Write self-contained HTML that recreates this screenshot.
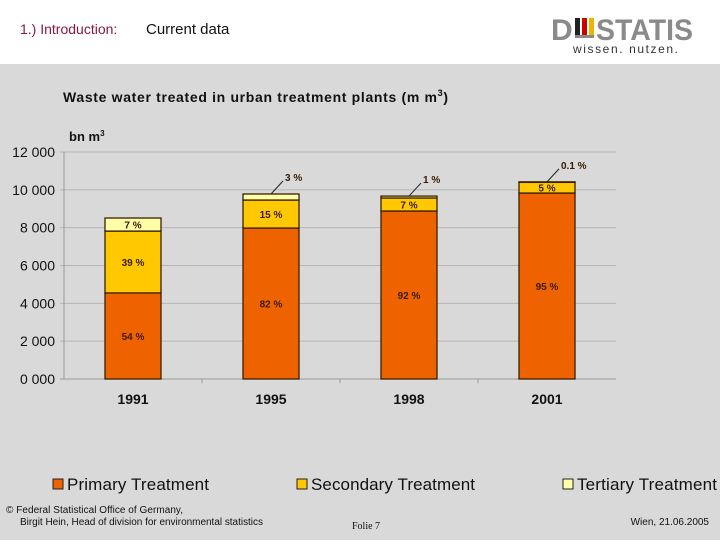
<!DOCTYPE html>
<html><head><meta charset="utf-8"><style>
body{margin:0;width:720px;height:540px;overflow:hidden;background:#fff;font-family:"Liberation Sans",sans-serif}
#wrap{position:relative;width:720px;height:540px}
</style></head><body>
<div id="wrap">
<svg id="chart" width="720" height="540" xmlns="http://www.w3.org/2000/svg">
<rect x="0" y="64" width="720" height="476" fill="#d9d9d9"/>
<text x="20" y="34" font-size="14" fill="#8b1a3a">1.)  Introduction:</text>
<text x="146" y="34" font-size="15" fill="#111">Current data</text>
<g>
<text x="551" y="40" font-size="30" font-weight="bold" fill="#8a8a8a">D</text>
<rect x="575" y="18" width="5" height="20" fill="#222"/>
<rect x="582" y="18" width="5" height="20" fill="#c00"/>
<rect x="589" y="18" width="5" height="20" fill="#e8b800"/>
<rect x="575" y="35" width="19" height="3" fill="#8a8a8a"/>
<text x="596" y="40" font-size="30" font-weight="bold" fill="#8a8a8a" textLength="97" lengthAdjust="spacingAndGlyphs">STATIS</text>
<text x="573" y="53" font-size="12" fill="#333" textLength="105" lengthAdjust="spacing">wissen. nutzen.</text>
</g>
<text x="63" y="102" font-size="14" font-weight="bold" fill="#111" textLength="385">Waste water treated in urban treatment plants (m  m<tspan font-size="9" dy="-6">3</tspan><tspan dy="6">)</tspan></text>
<text x="69" y="141" font-size="13" font-weight="bold" fill="#111">bn m<tspan font-size="8" dy="-5">3</tspan></text>
<g id="grid"></g><g id="bars"></g><g id="labels"></g>
<g>
<g><rect x="53" y="479" width="10" height="10" fill="#ee6300" stroke="#222"/><text x="67" y="490" font-size="17" fill="#111" textLength="142">Primary Treatment</text></g>
<g><rect x="297" y="479" width="10" height="10" fill="#ffc800" stroke="#222"/><text x="311" y="490" font-size="17" fill="#111" textLength="164">Secondary Treatment</text></g>
<g><rect x="563" y="479" width="10" height="10" fill="#ffffa8" stroke="#222"/><text x="577" y="490" font-size="17" fill="#111" textLength="140">Tertiary Treatment</text></g>
</g>
<text x="6" y="513" font-size="10" fill="#111" textLength="177">© Federal Statistical Office of Germany,</text>
<text x="20" y="525" font-size="10" fill="#111" textLength="243">Birgit Hein, Head of division for environmental statistics</text>
<text x="352" y="529" font-size="10" font-family="Liberation Serif,serif" fill="#111">Folie 7</text>
<text x="709" y="525" font-size="10" fill="#111" text-anchor="end">Wien, 21.06.2005</text>
</svg>
</div>
<script>
const categories=["1991","1995","1998","2001"];
const primary=[4550,7980,8880,9830];
const secondary=[3270,1480,690,580];
const tertiary=[690,320,100,10];
const primaryPct=["54  %","82  %","92  %","95  %"];
const secondaryPct=["39  %","15  %","7  %","5  %"];
const tertiaryPct=["7  %","3  %","1 %","0.1 %"];
const yTicks=[0,2000,4000,6000,8000,10000,12000];
const yTickLabels=["0 000","2 000","4 000","6 000","8 000","10 000","12 000"];
const NS="http://www.w3.org/2000/svg";
const X0=64,X1=616,Y0=379,Y1=152,YMAX=12000;
const y=v=>Y0-(v/YMAX)*(Y0-Y1);
const band=(X1-X0)/categories.length;
const cx=i=>X0+band*(i+0.5);
const BW=56;
function mk(tag,at,parent){const e=document.createElementNS(NS,tag);for(const k in at)e.setAttribute(k,at[k]);parent.appendChild(e);return e;}
const grid=document.getElementById('grid'),bars=document.getElementById('bars'),labels=document.getElementById('labels');
yTicks.forEach((t,i)=>{
 const l=mk('line',{x1:X0-4,x2:X1,y1:y(t),y2:y(t),stroke:i==0?'#999':'#b5b5b5','stroke-width':1},grid);
 
 
 const tx=mk('text',{x:55,y:y(t)+5,'font-size':14,fill:'#111','text-anchor':'end'},grid);
 tx.textContent=yTickLabels[i];
 
 
});
const ax=mk('line',{x1:X0,x2:X0,y1:Y1,y2:Y0,stroke:'#999'},grid);


for(let i=1;i<categories.length;i++){const tk=mk('line',{x1:X0+band*i,x2:X0+band*i,y1:Y0,y2:Y0+4,stroke:'#999'},grid);
 
 }
categories.forEach((c,i)=>{
 const x=cx(i)-BW/2;
 const segs=[[0,primary[i],'#ee6300','primary',primaryPct[i]],[primary[i],primary[i]+secondary[i],'#ffc800','secondary',secondaryPct[i]],[primary[i]+secondary[i],primary[i]+secondary[i]+tertiary[i],'#ffffa8','tertiary',tertiaryPct[i]]];
 segs.forEach((s,k)=>{
  const r=mk('rect',{x:x,y:y(s[1]),width:BW,height:Math.max(y(s[0])-y(s[1]),0.5),fill:s[2],stroke:'#3a2000','stroke-width':1.3},bars);
  
  
  const h=y(s[0])-y(s[1]);
  const t=mk('text',{'font-size':10,'font-weight':'bold',fill:'#3a1a00','text-anchor':'middle'},labels);
  t.textContent=s[4];
  if(h>=9){t.setAttribute('x',cx(i));t.setAttribute('y',(y(s[0])+y(s[1]))/2+4);}
  else{
   const lx=cx(i),ly=y(s[1]);
   const ln=mk('line',{x1:lx,y1:ly,x2:lx+12,y2:ly-13,stroke:'#222'},labels);
   
   
   t.setAttribute('x',lx+14);t.setAttribute('y',ly-13);t.setAttribute('text-anchor','start');
  }
  
  
 });
 const xl=mk('text',{x:cx(i),y:404,'font-size':14,'font-weight':'bold',fill:'#111','text-anchor':'middle'},labels);
 xl.textContent=c;
 
 
});
</script>
</body></html>
